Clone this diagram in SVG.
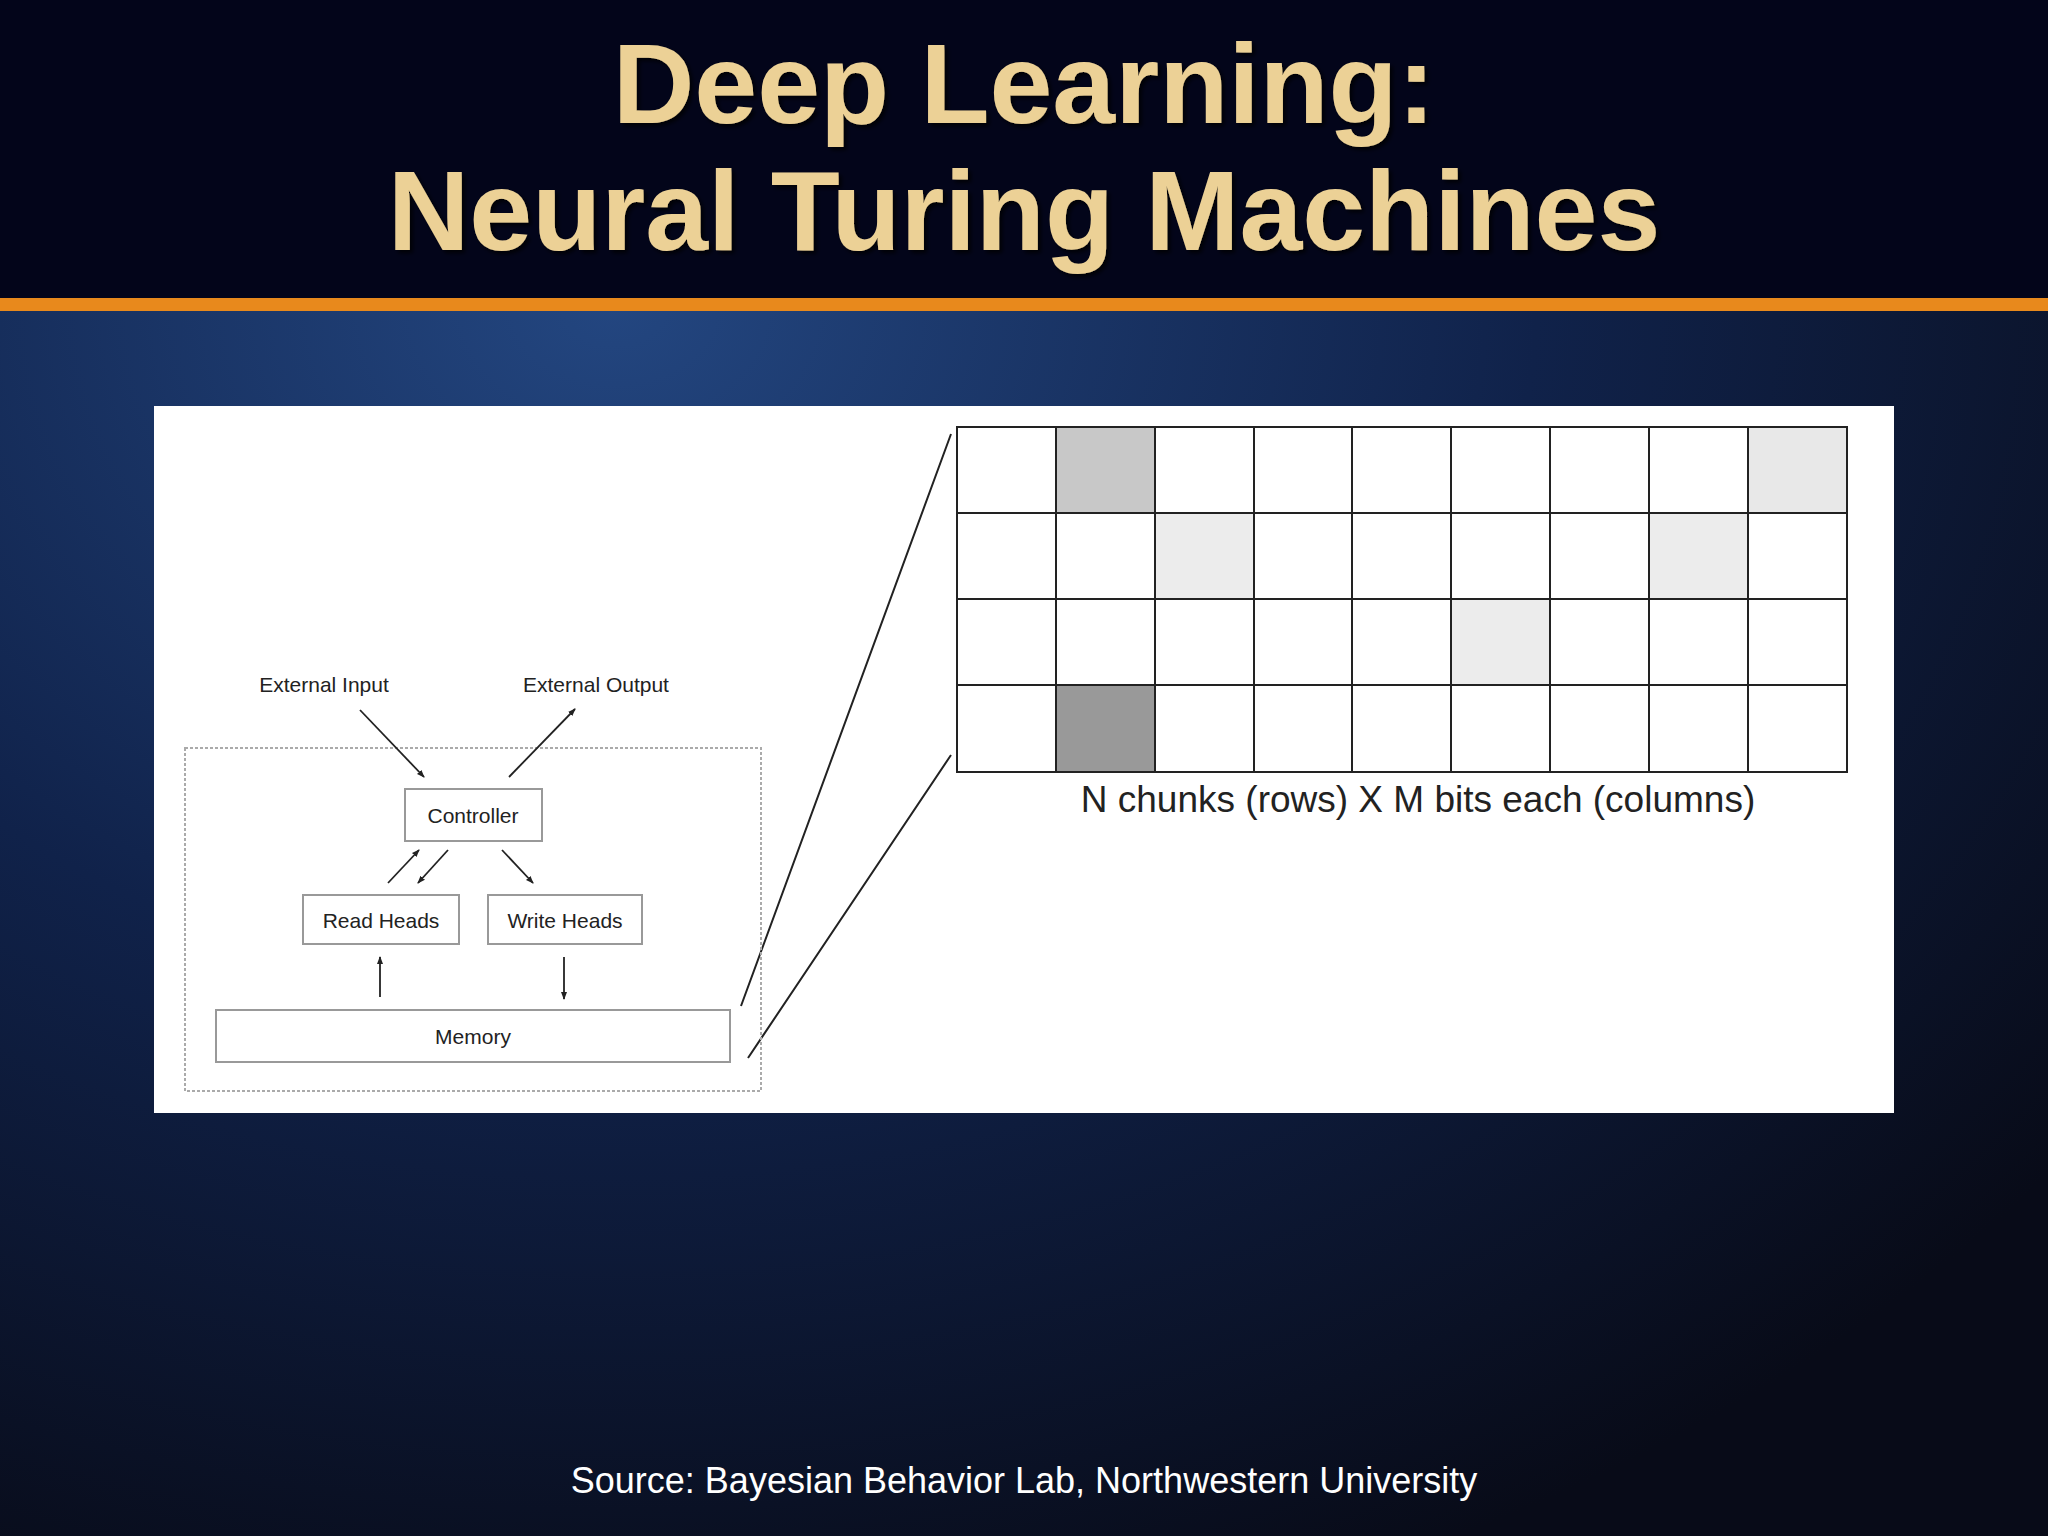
<svg xmlns="http://www.w3.org/2000/svg" width="2048" height="1536" viewBox="0 0 2048 1536">
<defs>
<radialGradient id="bg" cx="0.3" cy="0.2" r="0.9">
<stop offset="0" stop-color="#234680"/><stop offset="0.5" stop-color="#10224a"/><stop offset="1" stop-color="#080b18"/>
</radialGradient>
<marker id="ah" markerWidth="8" markerHeight="8" refX="7" refY="4" orient="auto" markerUnits="userSpaceOnUse"><path d="M0,1 L8,4 L0,7 z" fill="#222"/></marker>
<filter id="sh"><feDropShadow dx="3" dy="3" stdDeviation="2" flood-color="#000" flood-opacity="0.8"/></filter>
</defs>
<style>
.t{font-family:"Liberation Sans",Arial,sans-serif;font-weight:bold;font-size:113px;fill:#ecd196;text-anchor:middle}
.lbl{font-family:"Liberation Sans",Arial,sans-serif;font-size:21px;fill:#222;text-anchor:middle}
.box{fill:#fff;stroke:#999;stroke-width:2}
.c{stroke:#222;stroke-width:1.8;fill:none;marker-end:url(#ah)}
.g{stroke:#222;stroke-width:2;fill:none}
</style>
<rect width="2048" height="1536" fill="url(#bg)"/>
<rect width="2048" height="298" fill="#03051a"/>
<rect y="298" width="2048" height="13" fill="#e8891c"/>
<text class="t" x="1024" y="123" filter="url(#sh)">Deep Learning:</text>
<text class="t" x="1024" y="250" filter="url(#sh)">Neural Turing Machines</text>
<rect x="154" y="406" width="1740" height="707" fill="#fff"/>
<g id="grid">
<rect x="1056" y="427" width="99" height="86" fill="#c8c8c8"/>
<rect x="1748" y="427" width="99" height="86" fill="#e8e8e8"/>
<rect x="1155" y="513" width="99" height="86" fill="#ececec"/>
<rect x="1649" y="513" width="99" height="86" fill="#ececec"/>
<rect x="1451" y="599" width="99" height="86" fill="#ececec"/>
<rect x="1056" y="685" width="99" height="87" fill="#999"/>
<path class="g" d="M957,427H1847V772H957Z M957,513H1847 M957,599H1847 M957,685H1847 M1056,427V772 M1155,427V772 M1254,427V772 M1352,427V772 M1451,427V772 M1550,427V772 M1649,427V772 M1748,427V772"/>
<text x="1418" y="812" font-family="'Liberation Sans',Arial,sans-serif" font-size="37" fill="#222" text-anchor="middle">N chunks (rows) X M bits each (columns)</text>
</g>
<g id="zoomlines"><path class="g" d="M951,434L741,1006 M951,755L748,1058"/></g>
<rect x="185" y="748" width="576" height="343" fill="none" stroke="#aaa" stroke-width="2" stroke-dasharray="3,2"/>
<text class="lbl" x="324" y="692">External Input</text>
<text class="lbl" x="596" y="692">External Output</text>
<g id="controller"><rect class="box" x="405" y="789" width="137" height="52"/><text class="lbl" x="473" y="823">Controller</text></g>
<g id="read"><rect class="box" x="303" y="895" width="156" height="49"/><text class="lbl" x="381" y="928">Read Heads</text></g>
<g id="write"><rect class="box" x="488" y="895" width="154" height="49"/><text class="lbl" x="565" y="928">Write Heads</text></g>
<g id="memory"><rect class="box" x="216" y="1010" width="514" height="52"/><text class="lbl" x="473" y="1044">Memory</text></g>
<g id="connectors">
<path class="c" d="M360,710L424,777"/>
<path class="c" d="M509,777L575,709"/>
<path class="c" d="M388,883L419,850"/>
<path class="c" d="M448,850L418,883"/>
<path class="c" d="M502,850L533,883"/>
<path class="c" d="M380,997L380,957"/>
<path class="c" d="M564,957L564,999"/>
</g>
<text x="1024" y="1493" font-family="'Liberation Sans',Arial,sans-serif" font-size="36" fill="#fff" text-anchor="middle">Source: Bayesian Behavior Lab, Northwestern University</text>
</svg>
